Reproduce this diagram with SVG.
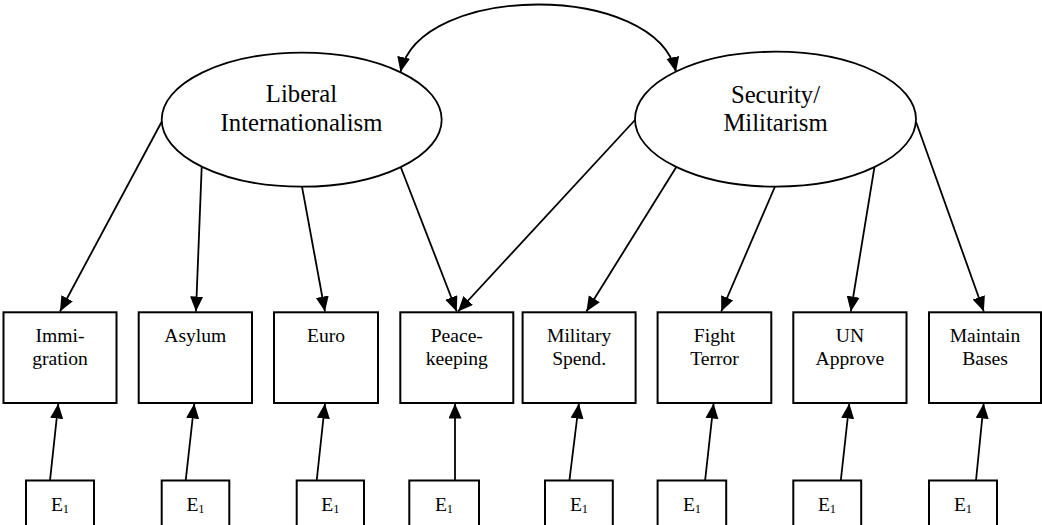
<svg xmlns="http://www.w3.org/2000/svg" width="1042" height="525" viewBox="0 0 1042 525">
<defs>
<marker id="ah" markerUnits="userSpaceOnUse" markerWidth="16" markerHeight="14" refX="15" refY="6.5" orient="auto-start-reverse">
<path d="M0,0 L15,6.5 L0,13 z" fill="#000"/>
</marker>
<style>
.box{fill:#fff;stroke:#000;stroke-width:2}
.ell{fill:#fff;stroke:#000;stroke-width:1.8}
.t{font-family:"Liberation Serif","Times New Roman",serif;font-size:19.6px;fill:#000;text-anchor:middle}
.tl{font-family:"Liberation Serif","Times New Roman",serif;font-size:24.7px;fill:#000;text-anchor:middle}
.c{fill:none;stroke:#000;stroke-width:1.8;marker-end:url(#ah)}
</style>
</defs>
<rect width="1042" height="525" fill="#fff"/>
<g id="connectors">
<path class="c" d="M400.5,72 C420,-18 656,-18 676,72" marker-start="url(#ah)"/>
<line class="c" x1="161.7" y1="121.7" x2="60" y2="311.5"/>
<line class="c" x1="201.7" y1="167" x2="196" y2="311.5"/>
<line class="c" x1="302" y1="186.7" x2="325" y2="311.5"/>
<line class="c" x1="400.7" y1="167" x2="456.7" y2="311.5"/>
<line class="c" x1="635" y1="120" x2="458" y2="311.5"/>
<line class="c" x1="676.3" y1="167" x2="586.4" y2="311.5"/>
<line class="c" x1="775" y1="186.5" x2="721.2" y2="311.5"/>
<line class="c" x1="874.4" y1="167.3" x2="850.8" y2="311.5"/>
<line class="c" x1="916" y1="121.7" x2="983.8" y2="311.5"/>
<line class="c" x1="50" y1="480.5" x2="58.3" y2="403.5"/>
<line class="c" x1="185.7" y1="480.5" x2="194.3" y2="403.5"/>
<line class="c" x1="316.7" y1="480.5" x2="325" y2="403.5"/>
<line class="c" x1="455" y1="480.5" x2="455" y2="403.5"/>
<line class="c" x1="569.4" y1="480.5" x2="578.9" y2="403.5"/>
<line class="c" x1="705.1" y1="480.5" x2="713.6" y2="403.5"/>
<line class="c" x1="840.8" y1="480.5" x2="849.3" y2="403.5"/>
<line class="c" x1="976" y1="480.5" x2="983.7" y2="403.5"/>
</g>
<g id="liberal">
<ellipse class="ell" cx="301.7" cy="119.7" rx="140" ry="67"/>
<text class="tl" x="301.5" y="102.3">Liberal</text>
<text class="tl" x="301.5" y="130.7">Internationalism</text>
</g>
<g id="security">
<ellipse class="ell" cx="775.5" cy="119.2" rx="140.5" ry="67.5"/>
<text class="tl" x="775.5" y="102.7">Security/</text>
<text class="tl" x="775.5" y="130.7">Militarism</text>
</g>
<g id="immigration"><rect class="box" x="3.5" y="312.3" width="113" height="90.7"/><text class="t" x="60" y="341.7">Immi-</text><text class="t" x="60" y="364.5">gration</text></g>
<g id="asylum"><rect class="box" x="138.7" y="312.3" width="113.3" height="90.7"/><text class="t" x="195.3" y="341.7">Asylum</text></g>
<g id="euro"><rect class="box" x="274" y="312.3" width="104" height="90.7"/><text class="t" x="326" y="341.7">Euro</text></g>
<g id="peacekeeping"><rect class="box" x="400.3" y="312.3" width="113" height="90.7"/><text class="t" x="456.8" y="341.7">Peace-</text><text class="t" x="456.8" y="364.5">keeping</text></g>
<g id="military"><rect class="box" x="522.6" y="312.3" width="113" height="90.7"/><text class="t" x="579.1" y="341.7">Military</text><text class="t" x="579.1" y="364.5">Spend.</text></g>
<g id="fight"><rect class="box" x="657.6" y="312.3" width="113.7" height="90.7"/><text class="t" x="714.5" y="341.7">Fight</text><text class="t" x="714.5" y="364.5">Terror</text></g>
<g id="un"><rect class="box" x="793.3" y="312.3" width="113.2" height="90.7"/><text class="t" x="849.9" y="341.7">UN</text><text class="t" x="849.9" y="364.5">Approve</text></g>
<g id="bases"><rect class="box" x="929" y="312.3" width="112" height="90.7"/><text class="t" x="985" y="341.7">Maintain</text><text class="t" x="985" y="364.5">Bases</text></g>
<g id="e1"><rect class="box" x="26" y="480.5" width="68" height="60"/><text class="t" x="60" y="511">E<tspan font-size="12.5" dy="2">1</tspan></text></g>
<g id="e2"><rect class="box" x="161.7" y="480.5" width="67.6" height="60"/><text class="t" x="195.5" y="511">E<tspan font-size="12.5" dy="2">1</tspan></text></g>
<g id="e3"><rect class="box" x="296.7" y="480.5" width="67.3" height="60"/><text class="t" x="330.3" y="511">E<tspan font-size="12.5" dy="2">1</tspan></text></g>
<g id="e4"><rect class="box" x="409.3" y="480.5" width="69.7" height="60"/><text class="t" x="444" y="511">E<tspan font-size="12.5" dy="2">1</tspan></text></g>
<g id="e5"><rect class="box" x="545" y="480.5" width="67.8" height="60"/><text class="t" x="579" y="511">E<tspan font-size="12.5" dy="2">1</tspan></text></g>
<g id="e6"><rect class="box" x="657.6" y="480.5" width="68.6" height="60"/><text class="t" x="692" y="511">E<tspan font-size="12.5" dy="2">1</tspan></text></g>
<g id="e7"><rect class="box" x="793.3" y="480.5" width="67.9" height="60"/><text class="t" x="827" y="511">E<tspan font-size="12.5" dy="2">1</tspan></text></g>
<g id="e8"><rect class="box" x="929" y="480.5" width="68" height="60"/><text class="t" x="963" y="511">E<tspan font-size="12.5" dy="2">1</tspan></text></g>
</svg>
